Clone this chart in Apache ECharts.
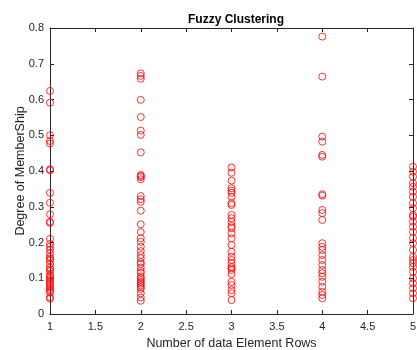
<!DOCTYPE html>
<html><head><meta charset="utf-8">
<script src="https://cdn.jsdelivr.net/npm/echarts@6/dist/echarts.min.js"></script>
<style>html,body{margin:0;padding:0;background:#fff}#c{width:417px;height:350px}</style>
</head><body><div id="c"></div>
<script>
const xTicks = [1, 1.5, 2, 2.5, 3, 3.5, 4, 4.5, 5];
const yTicks = [0, 0.1, 0.2, 0.3, 0.4, 0.5, 0.6, 0.7, 0.8];
const col1 = [0.624,0.591,0.5,0.484,0.477,0.405,0.402,0.339,0.311,0.279,0.258,0.255,0.21,0.196,0.188,0.18,0.17,0.16,0.155,0.15,0.14,0.13,0.125,0.12,0.11,0.105,0.1,0.095,0.09,0.085,0.08,0.075,0.07,0.065,0.06,0.047,0.043];
const col2 = [0.673,0.666,0.658,0.599,0.551,0.513,0.501,0.452,0.389,0.386,0.383,0.377,0.33,0.321,0.314,0.289,0.251,0.229,0.212,0.202,0.188,0.176,0.165,0.156,0.145,0.14,0.13,0.12,0.115,0.105,0.1,0.095,0.09,0.085,0.08,0.075,0.07,0.058,0.046,0.037];
const col3 = [0.41,0.395,0.373,0.352,0.345,0.339,0.328,0.31,0.305,0.277,0.268,0.258,0.246,0.24,0.226,0.212,0.193,0.174,0.16,0.151,0.142,0.132,0.128,0.123,0.112,0.09,0.081,0.067,0.058,0.039];
const col4 = [0.776,0.664,0.496,0.482,0.445,0.44,0.335,0.331,0.291,0.282,0.263,0.198,0.188,0.179,0.165,0.151,0.137,0.123,0.114,0.104,0.09,0.076,0.062,0.053,0.044];
const col5 = [0.412,0.398,0.384,0.366,0.356,0.342,0.328,0.31,0.296,0.277,0.272,0.258,0.244,0.23,0.212,0.198,0.179,0.16,0.151,0.142,0.132,0.118,0.1,0.086,0.072,0.058,0.044];
const columns = [col1, col2, col3, col4, col5];
const data = [];
columns.forEach((col, i) => col.forEach(v => data.push([i + 1, v])));
const axisColor = '#262626';
const chart = echarts.init(document.getElementById('c'));
const xBase = {
  type: 'value', min: xTicks[0], max: xTicks[xTicks.length - 1], interval: 0.5,
  splitLine: { show: false },
  axisLine: { show: true, onZero: false, lineStyle: { color: axisColor, width: 1 } },
  axisTick: { show: true, inside: true, length: 4, lineStyle: { color: axisColor } }
};
const yBase = {
  type: 'value', min: yTicks[0], max: yTicks[yTicks.length - 1], interval: 0.1,
  splitLine: { show: false },
  axisLine: { show: true, onZero: false, lineStyle: { color: axisColor, width: 1 } },
  axisTick: { show: true, inside: true, length: 4, lineStyle: { color: axisColor } }
};
chart.setOption({
  animation: false,
  title: {
    text: 'Fuzzy Clustering', left: 183, top: 9,
    textStyle: { fontFamily: 'Arial, Liberation Sans', fontSize: 12, fontWeight: 'bold', color: '#000' }
  },
  grid: { left: 50, right: 4, top: 28, bottom: 36, containLabel: false, outerBoundsMode: 'none' },
  xAxis: [
    Object.assign({}, xBase, {
      position: 'bottom',
      name: 'Number of data Element Rows', nameLocation: 'middle', nameGap: 23, nameMoveOverlap: false,
      nameTextStyle: { fontFamily: 'Arial, Liberation Sans', fontSize: 12.5, color: axisColor },
      axisLabel: { fontFamily: 'Arial, Liberation Sans', fontSize: 11, color: axisColor, margin: 7, formatter: v => String(v) }
    }),
    Object.assign({}, xBase, { position: 'top', axisLabel: { show: false } })
  ],
  yAxis: [
    Object.assign({}, yBase, {
      position: 'left',
      name: 'Degree of MemberShip', nameLocation: 'middle', nameGap: 23, nameMoveOverlap: false,
      nameTextStyle: { fontFamily: 'Arial, Liberation Sans', fontSize: 12.5, color: axisColor },
      axisLabel: { fontFamily: 'Arial, Liberation Sans', fontSize: 11, color: axisColor, margin: 6, formatter: v => String(Math.round(v * 10) / 10) }
    }),
    Object.assign({}, yBase, { position: 'right', axisLabel: { show: false } })
  ],
  series: [{
    type: 'scatter', xAxisIndex: 0, yAxisIndex: 0, clip: false,
    symbol: 'circle', symbolSize: 7,
    itemStyle: { color: 'rgba(0,0,0,0)', borderColor: '#ff0000', borderWidth: 1 },
    data: data
  }]
});
</script></body></html>
